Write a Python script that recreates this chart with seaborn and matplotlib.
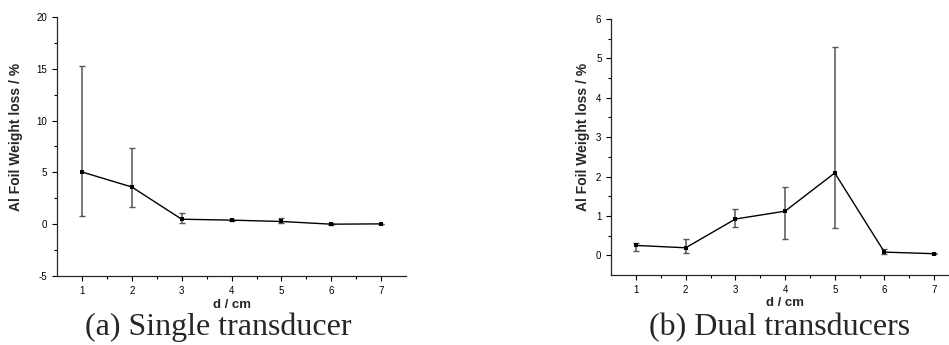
import seaborn as sns
import matplotlib.pyplot as plt
import pandas as pd

# distance d / cm
d = [1, 2, 3, 4, 5, 6, 7]

# (a) single transducer: mean, lower and upper ends of the error bars
single = [5.04, 3.59, 0.48, 0.39, 0.26, 0.00, 0.03]
single_lo = [0.81, 1.65, 0.10, 0.34, 0.10, -0.06, 0.00]
single_hi = [15.26, 7.37, 1.07, 0.44, 0.58, 0.16, 0.06]

# (b) dual transducers
dual = [0.25, 0.19, 0.92, 1.12, 2.09, 0.08, 0.04]
dual_lo = [0.12, 0.07, 0.72, 0.42, 0.70, 0.04, 0.02]
dual_hi = [0.30, 0.41, 1.17, 1.73, 5.30, 0.16, 0.06]

captions = ["(a) Single transducer", "(b) Dual transducers"]

sns.set_style("ticks")
plt.rcParams["font.family"] = ["Liberation Sans", "DejaVu Sans"]
plt.rcParams["axes.unicode_minus"] = False

fig = plt.figure(figsize=(9.49, 3.45), dpi=100)
ax1 = fig.add_axes([0.060, 0.200, 0.368, 0.751])
ax2 = fig.add_axes([0.644, 0.203, 0.3665, 0.742])


def panel(ax, y, lo, hi, ylim, major, minor, lab_xy):
    df = pd.DataFrame({"d": d, "loss": y})
    err = [[m - l for m, l in zip(y, lo)], [h - m for m, h in zip(y, hi)]]
    ax.errorbar(d, y, yerr=err, fmt="none", ecolor="#555555", elinewidth=1.1,
                capsize=2.5, capthick=1.0)
    sns.lineplot(data=df, x="d", y="loss", ax=ax, color="black", lw=1,
                 marker="s", markersize=3, markeredgewidth=0)
    ax.set_xlim(0.5, 7.5)
    ax.set_ylim(*ylim)
    ax.set_xticks(d)
    ax.set_xticks([x + 0.5 for x in d[:-1]], minor=True)
    ax.set_yticks(major)
    ax.set_yticks(minor, minor=True)
    ax.tick_params(which="both", direction="out", labelsize=7, width=0.8,
                   colors="black")
    ax.tick_params(which="major", length=3.5)
    ax.tick_params(which="minor", length=2)
    for s in ["left", "bottom"]:
        ax.spines[s].set_linewidth(0.9)
    sns.despine(ax=ax)
    ax.set_xlabel("d / cm", fontsize=9.5, fontweight="bold", labelpad=2)
    ax.set_ylabel("Al Foil Weight loss / %", fontsize=10, fontweight="bold")
    ax.yaxis.set_label_coords(*lab_xy)


panel(ax1, single, single_lo, single_hi, (-5, 20),
      [-5, 0, 5, 10, 15, 20], [-2.5, 2.5, 7.5, 12.5, 17.5], (-0.097, 0.537))
panel(ax2, dual, dual_lo, dual_hi, (-0.5, 6),
      [0, 1, 2, 3, 4, 5, 6], [0.5, 1.5, 2.5, 3.5, 4.5, 5.5], (-0.060, 0.539))

fig.text(218 / 949, 0.029, captions[0], fontsize=23, family="Liberation Serif",
         ha="center", va="baseline")
fig.text(780 / 949, 0.029, captions[1], fontsize=23, family="Liberation Serif",
         ha="center", va="baseline")

fig.savefig("out.png", dpi=100)
